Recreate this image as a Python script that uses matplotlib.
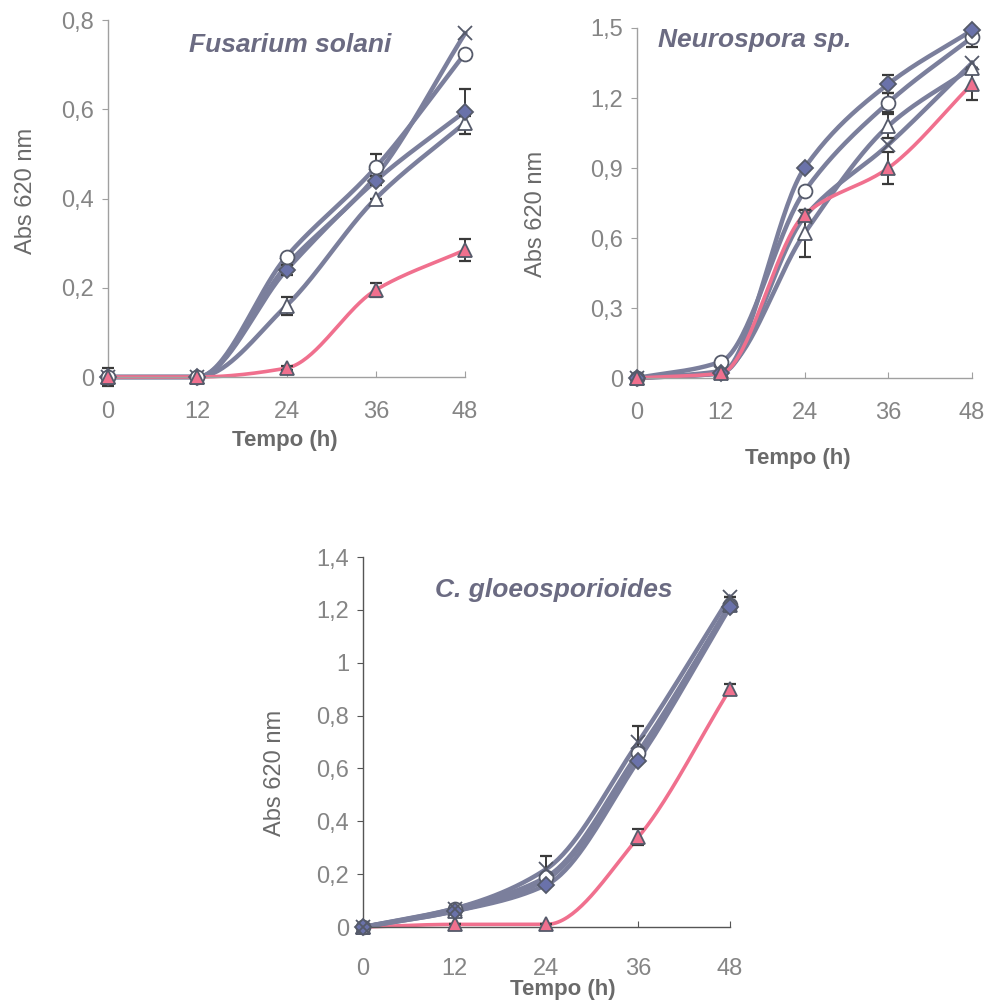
import numpy as np
import matplotlib.pyplot as plt

plt.rcParams['font.family'] = ['Liberation Sans', 'DejaVu Sans']

# dados
tempo = [0, 12, 24, 36, 48]

fs_diamante = [0, 0, 0.24, 0.44, 0.595]
fs_circulo = [0, 0, 0.27, 0.47, 0.725]
fs_triangulo = [0, 0, 0.16, 0.40, 0.57]
fs_cruz = [0, 0, 0.25, 0.45, 0.77]
fs_rosa = [0, 0, 0.02, 0.195, 0.285]
fs_erro_diamante = [0, 0, 0.012, 0.01, 0.05]
fs_erro_circulo = [0.02, 0, 0, 0.03, 0]
fs_erro_triangulo = [0.01, 0, 0.02, 0, 0.015]
fs_erro_rosa = [0, 0, 0.005, 0.015, 0.025]

ne_diamante = [0, 0.02, 0.90, 1.26, 1.49]
ne_circulo = [0, 0.07, 0.80, 1.18, 1.46]
ne_triangulo = [0, 0.03, 0.62, 1.08, 1.33]
ne_cruz = [0, 0.02, 0.69, 1.00, 1.35]
ne_rosa = [0, 0.02, 0.70, 0.90, 1.26]
ne_erro_diamante = [0, 0, 0.01, 0.04, 0]
ne_erro_circulo = [0, 0, 0, 0.04, 0.04]
ne_erro_triangulo = [0, 0, 0.10, 0.05, 0]
ne_erro_rosa = [0, 0, 0.02, 0.07, 0.07]

cg_diamante = [0, 0.06, 0.16, 0.63, 1.21]
cg_circulo = [0, 0.07, 0.19, 0.66, 1.22]
cg_triangulo = [0, 0.06, 0.18, 0.65, 1.22]
cg_cruz = [0, 0.07, 0.22, 0.70, 1.25]
cg_rosa = [0, 0.01, 0.01, 0.34, 0.90]
cg_erro_cruz = [0, 0, 0.05, 0.06, 0]
cg_erro_rosa = [0, 0, 0, 0.03, 0.02]

cor_linha = '#7b7f9c'
cor_rosa = '#f0708e'
cor_texto = '#6a6a6a'


# curva suave sem overshoot (hermite monotona)
def suavizar(x, y, n=40):
    x = np.asarray(x, float)
    y = np.asarray(y, float)
    h = np.diff(x)
    d = np.diff(y) / h
    m = np.zeros_like(y)
    for k in range(1, len(y) - 1):
        if d[k - 1] * d[k] > 0:
            w1 = 2 * h[k] + h[k - 1]
            w2 = h[k] + 2 * h[k - 1]
            m[k] = (w1 + w2) / (w1 / d[k - 1] + w2 / d[k])
    m[0] = d[0]
    m[-1] = d[-1]
    xs, ys = [], []
    for k in range(len(h)):
        t = np.linspace(0, 1, n)
        h00 = 2 * t ** 3 - 3 * t ** 2 + 1
        h10 = t ** 3 - 2 * t ** 2 + t
        h01 = -2 * t ** 3 + 3 * t ** 2
        h11 = t ** 3 - t ** 2
        xs.append(x[k] + t * h[k])
        ys.append(h00 * y[k] + h10 * h[k] * m[k] + h01 * y[k + 1] + h11 * h[k] * m[k + 1])
    return np.concatenate(xs), np.concatenate(ys)


def serie(ax, y, marcador, cor, erro=None, face='white', lw=3.2, ms=10):
    xs, ys = suavizar(tempo, y)
    ax.plot(xs, ys, color=cor, lw=lw, clip_on=False, zorder=2)
    if erro is not None:
        ax.errorbar(tempo, y, yerr=erro, fmt='none', ecolor='#3a3a3a', elinewidth=1.4,
                    capsize=4, capthick=1.6, clip_on=False, zorder=3)
    ax.plot(tempo, y, linestyle='none', marker=marcador, ms=ms, mfc=face, mec='#555a6a',
            mew=1.3, clip_on=False, zorder=4)


def painel(ax, titulo, tpos, ymax, yticks, ylabels, ylab_pos, xlab_pos, cor_eixo='#a0a0a0', xpad=17):
    ax.set_xlim(0, 48)
    ax.set_ylim(0, ymax)
    ax.set_xticks(tempo)
    ax.set_yticks(yticks)
    ax.set_yticklabels(ylabels)
    for s in ['top', 'right']:
        ax.spines[s].set_visible(False)
    for s in ['left', 'bottom']:
        ax.spines[s].set_color(cor_eixo)
        ax.spines[s].set_linewidth(1.0)
    ax.tick_params(axis='both', colors=cor_eixo, labelcolor='#858585', labelsize=17, length=4)
    ax.tick_params(axis='x', pad=xpad, direction='in')
    ax.tick_params(axis='y', pad=6, direction='out')
    ax.set_ylabel('Abs 620 nm', fontsize=17, color=cor_texto)
    ax.yaxis.set_label_coords(*ylab_pos)
    ax.set_xlabel('Tempo (h)', fontsize=16, fontweight='bold', color=cor_texto)
    ax.xaxis.set_label_coords(*xlab_pos)
    ax.text(tpos[0], tpos[1], titulo, transform=ax.transAxes, fontsize=19, fontweight='bold',
            style='italic', color='#6b6b82', ha='center', va='center')


fig = plt.figure(figsize=(9.89, 10.07), dpi=100)
ax1 = fig.add_axes([0.1092, 0.6256, 0.361, 0.3545])
ax2 = fig.add_axes([0.6441, 0.6246, 0.3387, 0.3476])
ax3 = fig.add_axes([0.3670, 0.0794, 0.3711, 0.3674])

# Fusarium solani
serie(ax1, fs_triangulo, '^', cor_linha, fs_erro_triangulo)
serie(ax1, fs_cruz, 'x', cor_linha)
serie(ax1, fs_diamante, 'D', cor_linha, fs_erro_diamante, face='#6a72aa', ms=8)
serie(ax1, fs_circulo, 'o', cor_linha, fs_erro_circulo)
serie(ax1, fs_rosa, '^', cor_rosa, fs_erro_rosa, face=cor_rosa, lw=2.6)
painel(ax1, 'Fusarium solani', (0.51, 0.93), 0.8, [0, 0.2, 0.4, 0.6, 0.8],
       ['0', '0,2', '0,4', '0,6', '0,8'], (-0.20, 0.52), (0.496, -0.148))

# Neurospora sp.
serie(ax2, ne_triangulo, '^', cor_linha, ne_erro_triangulo)
serie(ax2, ne_cruz, 'x', cor_linha)
serie(ax2, ne_circulo, 'o', cor_linha, ne_erro_circulo)
serie(ax2, ne_diamante, 'D', cor_linha, ne_erro_diamante, face='#6a72aa', ms=8)
serie(ax2, ne_rosa, '^', cor_rosa, ne_erro_rosa, face=cor_rosa, lw=2.6)
painel(ax2, 'Neurospora sp.', (0.35, 0.965), 1.5, [0, 0.3, 0.6, 0.9, 1.2, 1.5],
       ['0', '0,3', '0,6', '0,9', '1,2', '1,5'], (-0.27, 0.47), (0.48, -0.20))

# C. gloeosporioides
serie(ax3, cg_rosa, '^', cor_rosa, cg_erro_rosa, face=cor_rosa, lw=2.6)
serie(ax3, cg_triangulo, '^', cor_linha)
serie(ax3, cg_circulo, 'o', cor_linha)
serie(ax3, cg_diamante, 'D', cor_linha, face='#6a72aa', ms=8)
serie(ax3, cg_cruz, 'x', cor_linha, cg_erro_cruz)
painel(ax3, 'C. gloeosporioides', (0.52, 0.91), 1.4, [0, 0.2, 0.4, 0.6, 0.8, 1.0, 1.2, 1.4],
       ['0', '0,2', '0,4', '0,6', '0,8', '1', '1,2', '1,4'], (-0.21, 0.416), (0.545, -0.14),
       cor_eixo='#555555', xpad=22)

fig.savefig('out.png', dpi=100)
